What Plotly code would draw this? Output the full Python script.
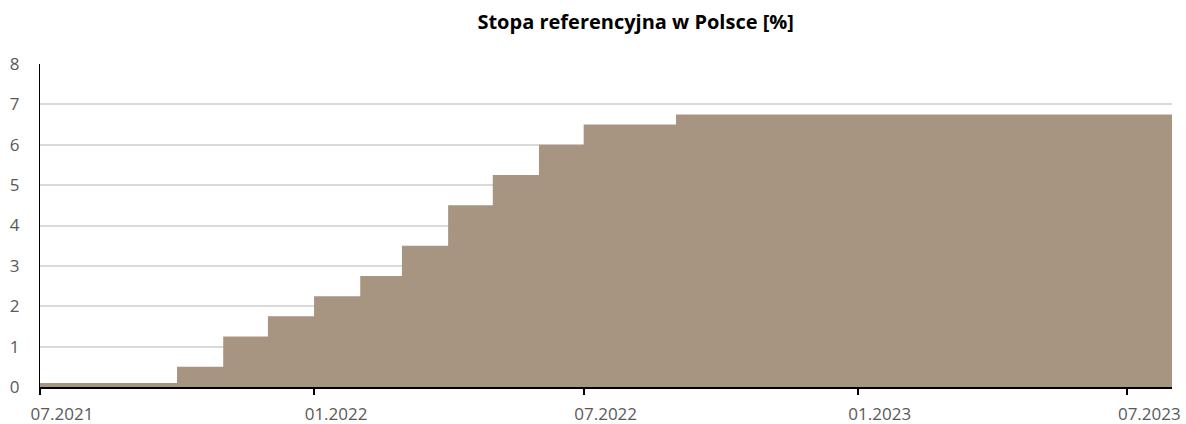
import plotly.graph_objects as go

months = ["2021-07-01", "2021-08-01", "2021-09-01", "2021-10-01", "2021-11-01", "2021-12-01",
          "2022-01-01", "2022-02-01", "2022-03-01", "2022-04-01", "2022-05-01", "2022-06-01",
          "2022-07-01", "2022-08-01", "2022-09-01", "2022-10-01", "2022-11-01", "2022-12-01",
          "2023-01-01", "2023-02-01", "2023-03-01", "2023-04-01", "2023-05-01", "2023-06-01",
          "2023-07-01", "2023-08-01"]
rates = [0.1, 0.1, 0.1, 0.5, 1.25, 1.75,
         2.25, 2.75, 3.5, 4.5, 5.25, 6.0,
         6.5, 6.5, 6.75, 6.75, 6.75, 6.75,
         6.75, 6.75, 6.75, 6.75, 6.75, 6.75,
         6.75, 6.75]

FONT = "Open Sans, Segoe UI, sans-serif"
fig = go.Figure()
fig.add_trace(go.Scatter(
    x=months, y=rates, mode="lines", line=dict(shape="hv", width=0, color="#a79582"),
    fill="tozeroy", fillcolor="#a79582", hoverinfo="x+y", showlegend=False,
))
fig.update_layout(
    width=1186, height=424,
    margin=dict(l=40, r=14, t=64, b=37),
    paper_bgcolor="white", plot_bgcolor="white",
    font=dict(family=FONT, size=17, color="#595959"),
    title=dict(text="<b>Stopa referencyjna w Polsce [%]</b>", x=0.536, xanchor="center",
               y=0.948, yanchor="middle", font=dict(family=FONT, size=20, color="black")),
    xaxis=dict(type="date", range=["2021-07-01", "2023-07-31"], tick0="2021-07-01", dtick="M6",
               tickformat="%m.%Y", ticks="outside", ticklen=6, tickwidth=2, tickcolor="black",
               showline=True, linecolor="black", linewidth=2, showgrid=False, zeroline=False,
               automargin=False, ticklabelshift=22, ticklabelstandoff=5,
               tickfont=dict(size=17, color="#595959")),
    yaxis=dict(range=[0, 8], dtick=1, showline=True, linecolor="black", linewidth=1,
               showgrid=True, gridcolor="#d9d9d9", gridwidth=2, zeroline=False,
               automargin=False, ticks="", ticklabelstandoff=16,
               tickfont=dict(size=17, color="#595959")),
)
fig.write_html("out.html")
